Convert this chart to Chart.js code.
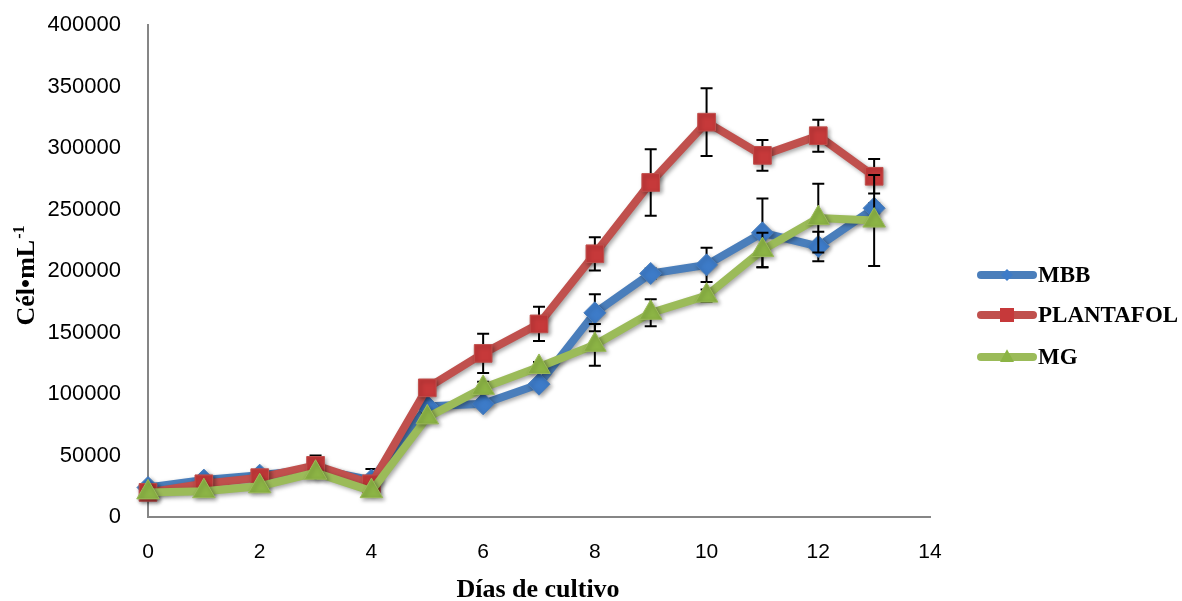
<!DOCTYPE html>
<html>
<head>
<meta charset="utf-8">
<script src="https://cdn.jsdelivr.net/npm/chart.js@4/dist/chart.umd.min.js"></script>
<style>
html, body { margin: 0; padding: 0; background: #fff; }
#wrap { width: 1182px; height: 601px; }
</style>
</head>
<body>
<div id="wrap"><canvas id="grafico" width="1182" height="601"></canvas></div>
<script>
// Datos (células por mL por día de cultivo)
const dias = [0, 1, 2, 3, 4, 5, 6, 7, 8, 9, 10, 11, 12, 13];
const mbb = [24000, 30000, 34000, 39000, 30000, 90000, 92000, 108000, 166000, 198000, 205000, 231000, 220000, 251000];
const plantafol = [20000, 27000, 32000, 42000, 27000, 105000, 133000, 157000, 214000, 272000, 321000, 294000, 310000, 277000];
const mg = [20000, 21000, 25000, 36000, 21000, 81000, 105000, 122000, 140000, 166000, 180000, 217000, 243000, 241000];

// Desviaciones (barras de error)
const errMbb = [2000, 2000, 2000, 2000, 9000, 3000, 3000, 3000, 15000, 4000, 14000, 28000, 12000, 4000];
const errPlantafol = [2000, 2000, 2000, 8000, 2000, 3000, 16000, 14000, 13500, 27000, 27500, 12500, 13000, 14000];
const errMg = [2000, 2000, 2000, 2000, 2000, 3000, 5000, 4000, 17000, 11000, 5000, 14000, 28000, 37000];

const yTicks = [0, 50000, 100000, 150000, 200000, 250000, 300000, 350000, 400000];

const series = [
    { label: 'MBB', data: mbb, err: errMbb, line: '#4a7ebb', fill: '#3d7bc8', style: 'rectRot', radius: 11, order: 3 },
    { label: 'PLANTAFOL', data: plantafol, err: errPlantafol, line: '#c0504d', fill: '#c6393a', style: 'rect', radius: 12.5, order: 2 },
    { label: 'MG', data: mg, err: errMg, line: '#9bbb59', fill: '#8cb445', style: 'triangle', radius: 13, order: 1 }
];

const FUENTE_SERIF = '"Liberation Serif", "Times New Roman", serif';
const FUENTE_SANS = '"Liberation Sans", Arial, sans-serif';

// Barras de error + sombra de las líneas (estilo Excel)
const pluginErrores = {
    id: 'errores',
    beforeDatasetDraw(chart, args) {
        const ctx = chart.ctx;
        const s = series[args.index];
        const xs = chart.scales.x, ys = chart.scales.y;
        ctx.save();
        ctx.strokeStyle = '#000';
        ctx.lineWidth = 2;
        dias.forEach((d, i) => {
            const px = xs.getPixelForValue(d);
            const top = ys.getPixelForValue(s.data[i] + s.err[i]);
            const bot = ys.getPixelForValue(s.data[i] - s.err[i]);
            ctx.beginPath();
            ctx.moveTo(px, top); ctx.lineTo(px, bot);
            ctx.moveTo(px - 6, top); ctx.lineTo(px + 6, top);
            ctx.moveTo(px - 6, bot); ctx.lineTo(px + 6, bot);
            ctx.stroke();
        });
        ctx.restore();
        ctx.save();
        ctx.shadowColor = 'rgba(0,0,0,0.35)';
        ctx.shadowBlur = 4;
        ctx.shadowOffsetX = 2;
        ctx.shadowOffsetY = 2;
    },
    afterDatasetDraw(chart) {
        chart.ctx.restore();
    }
};

function marcador(ctx, estilo, x, y, r) {
    ctx.beginPath();
    if (estilo === 'rectRot') {
        ctx.moveTo(x, y - r); ctx.lineTo(x + r, y); ctx.lineTo(x, y + r); ctx.lineTo(x - r, y);
    } else if (estilo === 'rect') {
        ctx.rect(x - r, y - r, 2 * r, 2 * r);
    } else {
        ctx.moveTo(x, y - r * 1.1); ctx.lineTo(x + r, y + r * 0.7); ctx.lineTo(x - r, y + r * 0.7);
    }
    ctx.closePath();
    ctx.fill();
}

// Leyenda y títulos de ejes
const pluginTextos = {
    id: 'textos',
    afterDraw(chart) {
        const ctx = chart.ctx;
        ctx.save();
        // leyenda
        const ys = [275, 315, 357];
        series.forEach((s, i) => {
            const y = ys[i];
            ctx.strokeStyle = s.line;
            ctx.lineWidth = 8;
            ctx.lineCap = 'round';
            ctx.beginPath();
            ctx.moveTo(981, y); ctx.lineTo(1033, y);
            ctx.stroke();
            ctx.fillStyle = s.fill;
            marcador(ctx, s.style, 1007, y, s.style === 'rectRot' ? 6 : 7);
            ctx.fillStyle = '#000';
            ctx.font = 'bold 23px ' + FUENTE_SERIF;
            ctx.textAlign = 'left';
            ctx.textBaseline = 'middle';
            ctx.fillText(s.label, 1038, y + 1);
        });
        // título eje X
        ctx.font = 'bold 26px ' + FUENTE_SERIF;
        ctx.textAlign = 'center';
        ctx.textBaseline = 'alphabetic';
        ctx.fillText('Días de cultivo', 538, 597);
        // título eje Y con superíndice
        ctx.translate(34, 276);
        ctx.rotate(-Math.PI / 2);
        const base = 'Cél•mL';
        ctx.font = 'bold 26px ' + FUENTE_SERIF;
        const w1 = ctx.measureText(base).width;
        ctx.font = 'bold 16px ' + FUENTE_SERIF;
        const w2 = ctx.measureText('-1').width;
        const x0 = -(w1 + w2) / 2;
        ctx.textAlign = 'left';
        ctx.font = 'bold 26px ' + FUENTE_SERIF;
        ctx.fillText(base, x0, 0);
        ctx.font = 'bold 16px ' + FUENTE_SERIF;
        ctx.fillText('-1', x0 + w1 + 1, -10);
        ctx.restore();
    }
};

const datasets = series.map(s => ({
    label: s.label,
    data: dias.map((d, i) => ({ x: d, y: s.data[i] })),
    borderColor: s.line,
    borderWidth: 8,
    backgroundColor: s.fill,
    pointBackgroundColor: s.fill,
    pointBorderColor: s.line,
    pointBorderWidth: 1,
    pointStyle: s.style,
    pointRadius: s.radius,
    pointHoverRadius: s.radius,
    tension: 0,
    clip: false,
    order: s.order
}));

new Chart(document.getElementById('grafico'), {
    type: 'line',
    data: { datasets: datasets },
    options: {
        responsive: false,
        animation: false,
        events: [],
        layout: { padding: { top: 25, right: 252, left: 0, bottom: 0 } },
        plugins: {
            legend: { display: false },
            tooltip: { enabled: false }
        },
        scales: {
            x: {
                type: 'linear',
                min: 0,
                max: 14,
                afterFit: (scale) => {
                    scale.height = 84;
                    scale.paddingLeft = 0;
                    scale.paddingRight = 0;
                },
                grid: { display: false },
                border: { display: true, color: '#868686', width: 2 },
                ticks: {
                    stepSize: 2,
                    padding: 15,
                    color: '#000',
                    font: { family: FUENTE_SANS, size: 21 }
                }
            },
            y: {
                min: 0,
                max: 400000,
                afterFit: (scale) => {
                    scale.width = 148;
                    scale.paddingTop = 0;
                    scale.paddingBottom = 0;
                },
                afterBuildTicks: (scale) => { scale.ticks = yTicks.map(v => ({ value: v })); },
                grid: { display: false },
                border: { display: true, color: '#868686', width: 2 },
                ticks: {
                    padding: 19,
                    color: '#000',
                    callback: (v) => String(v),
                    font: { family: FUENTE_SANS, size: 22 }
                }
            }
        }
    },
    plugins: [pluginErrores, pluginTextos]
});
</script>
</body>
</html>
